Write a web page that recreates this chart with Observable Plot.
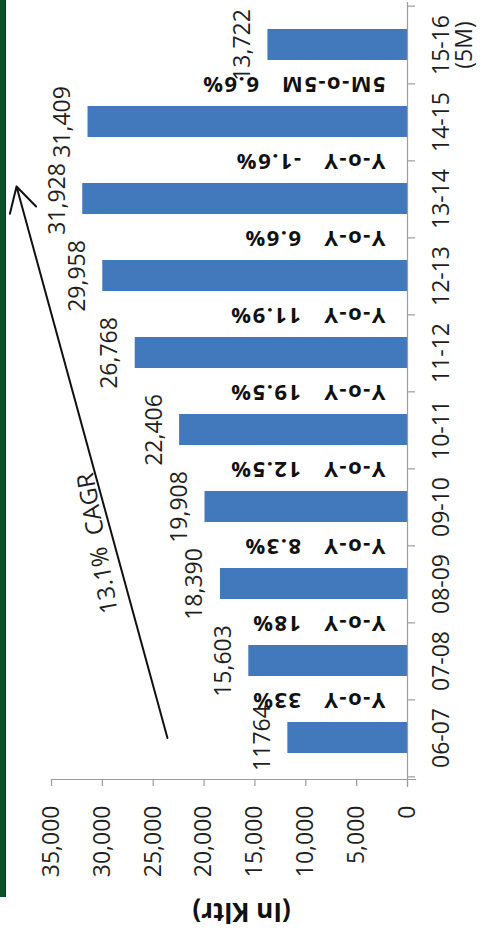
<!DOCTYPE html>
<html>
<head>
<meta charset="utf-8">
<script src="https://cdn.jsdelivr.net/npm/d3@7"></script>
<script src="https://cdn.jsdelivr.net/npm/@observablehq/plot@0.6"></script>
<style>
  html, body { margin: 0; padding: 0; background: #fff; }
  #chart { position: relative; width: 485px; height: 937px; overflow: hidden; }
  #chart::before {
    content: ""; position: absolute; left: 0; top: 0; width: 5px; height: 897px;
    background: #0b5129; border-right: 1px solid #06361b;
  }
  #chart svg { display: block; }
  .growth-label text { letter-spacing: 1.5px; }
</style>
</head>
<body>
<div id="chart"></div>
<script>
// Fiscal years (oldest first); the last one covers five months only
const categories = ["06-07", "07-08", "08-09", "09-10", "10-11", "11-12", "12-13", "13-14", "14-15", "15-16\n(5M)"];
// Volume in kilolitres
const volumes = [11764, 15603, 18390, 19908, 22406, 26768, 29958, 31928, 31409, 13722];
const volumeLabels = ["11764", "15,603", "18,390", "19,908", "22,406", "26,768", "29,958", "31,928", "31,409", "13,722"];
// Growth over the previous period, shown between consecutive bars
const growthPrefix = [null, "Y-o-Y", "Y-o-Y", "Y-o-Y", "Y-o-Y", "Y-o-Y", "Y-o-Y", "Y-o-Y", "Y-o-Y", "5M-o-5M"];
const growthLabels = [null, "33%", "18%", "8.3%", "12.5%", "19.5%", "11.9%", "6.6%", "-1.6%", "6.6%"];
// Value axis ticks
const valueTicks = [0, 5000, 10000, 15000, 20000, 25000, 30000, 35000];
// Compound annual growth trend annotation
const cagrLabel = "13.1%\u00a0\u00a0CAGR";
const cagrFrom = {category: "06-07", value: 23600};
const cagrTo = {category: "13-14", value: 38100};
const unitLabel = "(In Kltr)";

const rows = categories.map((category, i) => ({
  category,
  volume: volumes[i],
  label: volumeLabels[i],
  growth: growthLabels[i] == null ? null : `${growthPrefix[i]}\u00a0\u00a0\u00a0${growthLabels[i]}`
}));
const growthRows = rows.filter(d => d.growth != null);

const W = 485, H = 937;
const margin = {top: 2, right: 78, bottom: 158, left: 51};
const step = (H - margin.top - margin.bottom) / categories.length;
const axisGray = "#9c9c9c";
const ink = "#1f1f1f";
const font = "'Open Sans', sans-serif";

const chart = Plot.plot({
  width: W,
  height: H,
  marginTop: margin.top,
  marginRight: margin.right,
  marginBottom: margin.bottom,
  marginLeft: margin.left,
  style: {fontFamily: font, background: "transparent", overflow: "visible"},
  x: {domain: [0, 35000], reverse: true, label: null},
  y: {domain: categories.slice().reverse(), paddingInner: 0.6, paddingOuter: 0.3, label: null},
  marks: [
    // bars
    Plot.barX(rows, {x: "volume", y: "category", fill: "#4279bd"}),

    // axis lines
    Plot.ruleX([0], {stroke: axisGray, strokeWidth: 1.2, insetBottom: -8}),
    Plot.frame({anchor: "bottom", stroke: axisGray, strokeWidth: 1.2, insetRight: -8}),

    // value axis ticks and rotated labels
    Plot.axisX(valueTicks, {anchor: "bottom", tickSize: 7, text: null, label: null, stroke: axisGray, strokeWidth: 1.2}),
    Plot.text(valueTicks, {
      x: d => d, frameAnchor: "bottom", dy: 26, rotate: -90,
      textAnchor: "end", lineAnchor: "middle",
      text: d => d3.format(",")(d), fontSize: 23, fill: ink
    }),

    // category axis: ticks at band boundaries
    Plot.axisY({anchor: "right", tickSize: 7, text: null, label: null, dy: step / 2, stroke: axisGray, strokeWidth: 1.2}),
    Plot.axisY([categories[categories.length - 1]], {anchor: "right", tickSize: 7, text: null, label: null, dy: -step / 2, stroke: axisGray, strokeWidth: 1.2}),
    Plot.text(categories, {
      y: d => d, frameAnchor: "right", dx: 25, rotate: -90,
      textAnchor: "middle", lineAnchor: "top",
      fontSize: 23, fill: ink
    }),

    // value labels at the end of each bar
    Plot.text(rows, {
      x: "volume", y: "category", text: "label", dx: -18, rotate: -90,
      textAnchor: "middle", lineAnchor: "bottom",
      fontSize: 23, fill: ink
    }),

    // growth labels between bars
    Plot.text(growthRows, {
      y: "category", text: "growth", frameAnchor: "right", dx: -22, dy: step / 2,
      rotate: 180, textAnchor: "start", lineAnchor: "middle",
      fontSize: 22, fontWeight: "bold", fill: "#111", className: "growth-label"
    }),

    // CAGR trend arrow and label
    Plot.arrow([{from: cagrFrom, to: cagrTo}], {
      x1: d => d.from.value, y1: d => d.from.category,
      x2: d => d.to.value, y2: d => d.to.category,
      stroke: "#111", strokeWidth: 2, headLength: 21, headAngle: 58, insetEnd: -13
    }),
    Plot.text([cagrLabel], {
      x: () => 29700, y: () => "09-10", dy: 35, rotate: -100,
      textAnchor: "middle", lineAnchor: "bottom",
      text: d => d, fontSize: 24, fill: ink
    }),

    // unit label under the value axis
    Plot.text([unitLabel], {
      frameAnchor: "bottom", dx: 12, dy: 123, rotate: 180,
      textAnchor: "middle", lineAnchor: "bottom",
      text: d => d, fontSize: 26, fontWeight: "bold", fill: "#111"
    })
  ]
});

document.getElementById("chart").appendChild(chart);
</script>
</body>
</html>
